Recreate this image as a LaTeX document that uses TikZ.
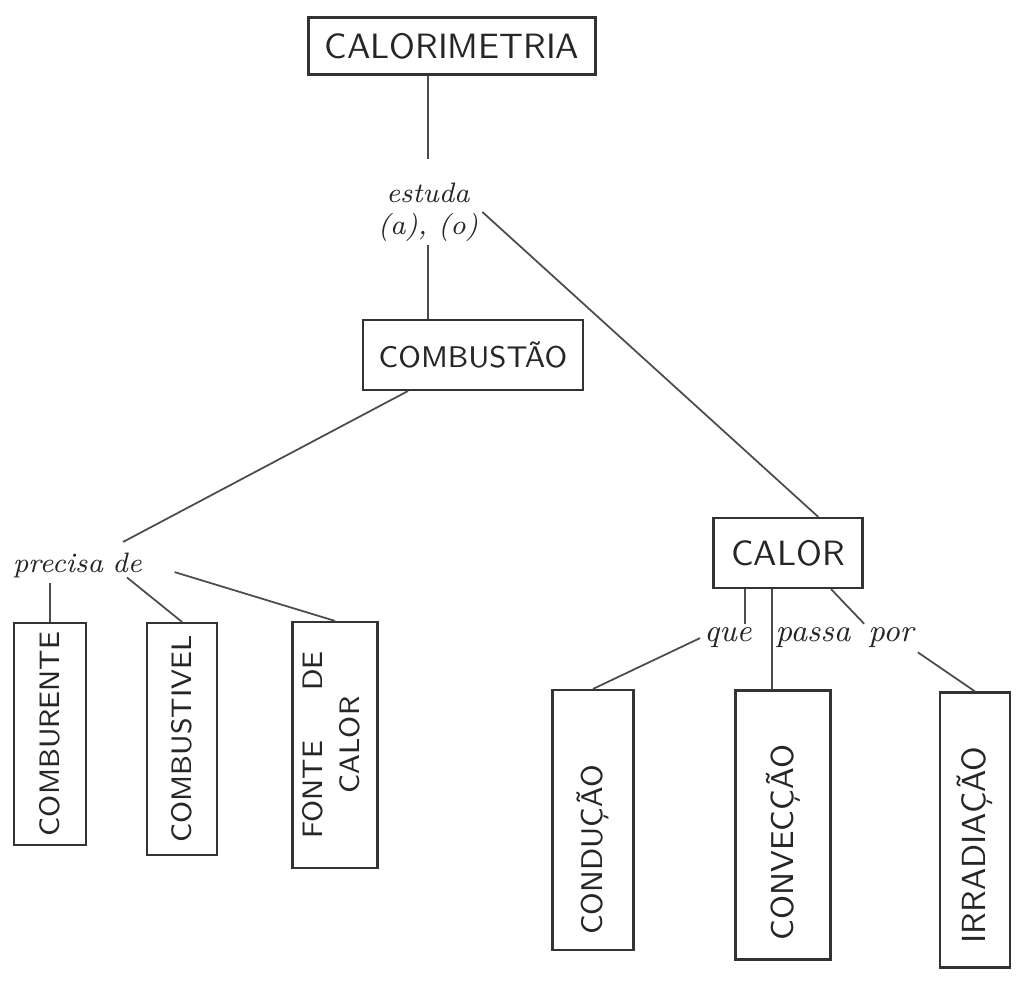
\documentclass[tikz,border=0pt]{standalone}
\usepackage{fontspec}
\usepackage{graphicx}

\newcommand{\uptext}[1]{\rotatebox{90}{#1}}

\begin{document}
\begin{tikzpicture}[
    box/.style={draw=black!80, line width=0.6pt, inner sep=0pt, text=black!85,
                font=\sffamily\fontsize{#1}{#1}\selectfont},
    link/.style={inner sep=1pt, text=black!85, font=\itshape\fontsize{#1}{#1}\selectfont},
    conn/.style={draw=black!70, line width=0.5pt}
]

\useasboundingbox (0,0) rectangle (10.21,9.82);

% main concept
\node [box=10, minimum width=2.87cm, minimum height=0.57cm] (calorimetria) at (4.52,9.36) {CALORIMETRIA};
\node [link=8, align=center] (estuda) at (4.28,7.70) {estuda\\[1pt](a), (o)};

% combustion branch
\node [box=8.5, minimum width=2.2cm, minimum height=0.7cm] (combustao) at (4.73,6.27) {COMBUSTÃO};
\node [link=8, anchor=base] (precisa) at (0.58,4.09) {precisa};
\node [link=8, anchor=base] (de) at (1.27,4.09) {de};
\node [box=8, minimum width=0.72cm, minimum height=2.22cm] (comburente) at (0.50,2.48) {\uptext{COMBURENTE}};
\node [box=8, minimum width=0.70cm, minimum height=2.32cm] (combustivel) at (1.82,2.43) {\uptext{COMBUSTIVEL}};
\node [box=8, minimum width=0.85cm, minimum height=2.46cm] (fonte) at (3.35,2.37)
    {\uptext{\begin{tabular}{@{}c@{}}FONTE\hspace{5mm}DE\\[2.5pt] CALOR\end{tabular}}};

% heat branch
\node [box=10, minimum width=1.49cm, minimum height=0.70cm] (calor) at (7.88,4.29) {CALOR};
\node [link=9, anchor=base] (que) at (7.28,3.40) {que};
\node [link=9, anchor=base] (passa) at (8.13,3.40) {passa};
\node [link=9, anchor=base] (por) at (8.91,3.40) {por};
\node [box=8.5, minimum width=0.81cm, minimum height=2.60cm] (conducao) at (5.93,1.62) {\uptext{CONDUÇÃO\hspace*{6mm}}};
\node [box=9, minimum width=0.95cm, minimum height=2.69cm] (conveccao) at (7.83,1.57) {\uptext{CONVECÇÃO\hspace*{3.5mm}}};
\node [box=9.5, minimum width=0.70cm, minimum height=2.75cm] (irradiacao) at (9.75,1.52) {\uptext{IRRADIAÇÃO\hspace*{3mm}}};

% links
\draw [conn, shorten >=2mm] (calorimetria.south -| estuda.north) -- (estuda.north);
\draw [conn] (estuda.south) -- (estuda.south |- combustao.north);
\draw [conn] (estuda.east) -- (calor.50);

\draw [conn, shorten >=1.8mm] (combustao.-151) -- (precisa.north east);
\draw [conn] (precisa.south -| comburente.north) -- (comburente.north);
\draw [conn] (de.south) -- (combustivel.north);
\draw [conn, shorten <=3mm] (de.east) -- (fonte.north);

\draw [conn] (calor.-140) -- (calor.-140 |- que.north);
\draw [conn] (calor.-114) -- (calor.-114 |- conveccao.north);
\draw [conn] (calor.-40) -- (por.north west);
\draw [conn] (que.west) -- (conducao.north);
\draw [conn] (por.south east) -- (irradiacao.north);

\end{tikzpicture}
\end{document}
